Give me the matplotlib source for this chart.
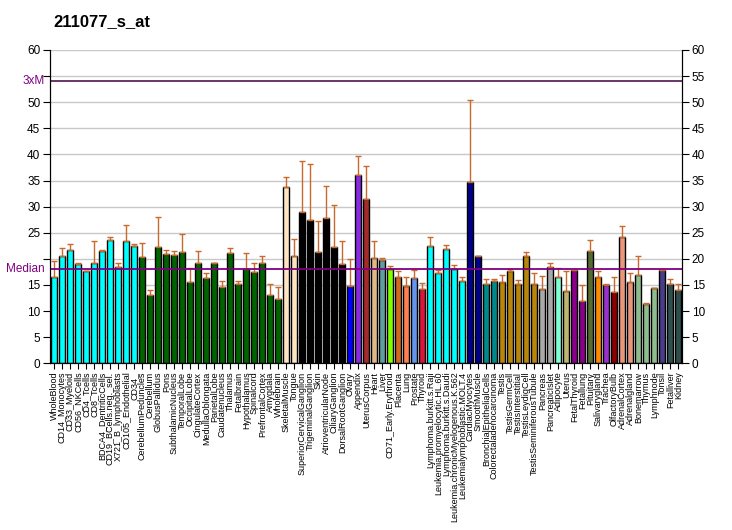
import numpy as np
import matplotlib
matplotlib.use("Agg")
import matplotlib.pyplot as plt

# Tissue labels, expression values and upper error bar ends
tissues = [
    "WholeBlood", "CD14_Monocytes", "CD33_Myeloid", "CD56_NKCells", "CD4_Tcells",
    "CD8_Tcells", "BDCA4_DentriticCells", "CD19_BCells.neg._sel.", "X721_B_lymphoblasts",
    "CD105_Endothelial", "CD34_", "CerebellumPeduncles", "Cerebellum", "GlobusPallidus",
    "Pons", "SubthalamicNucleus", "TemporalLobe", "OccipitalLobe", "CingulateCortex",
    "MedullaOblongata", "ParietalLobe", "Caudatenucleus", "Thalamus", "Fetalbrain",
    "Hypothalamus", "Spinalcord", "PrefrontalCortex", "Amygdala", "Wholebrain",
    "SkeletalMuscle", "Tongue", "SuperiorCervicalGanglion", "TrigeminalGanglion", "Skin",
    "AtrioventricularNode", "CiliaryGanglion", "DorsalRootGanglion", "Ovary", "Appendix",
    "UterusCorpus", "Heart", "Liver", "CD71_Early.Erythroid", "Placenta", "Lung",
    "Prostate", "Thyroid", "Lymphoma.burkitt.s.Raji", "Leukemia.promyelocytic.HL.60",
    "Lymphoma.burkitt.s.Daudi", "Leukemia.chronicMyelogenous.K.562",
    "Leukemialymphoblastic.MOLT.4", "CardiacMyocytes", "SmoothMuscle",
    "BronchialEpithelialCells", "Colorectaladenocarcinoma", "Testis", "TestisGermCell",
    "TestisInterstitial", "TestisLeydigCell", "TestisSeminiferousTubule", "Pancreas",
    "PancreaticIslet", "Adipocyte", "Uterus", "FetalThyroid", "Fetallung", "Pituitary",
    "Salivarygland", "Trachea", "OlfactoryBulb", "AdrenalCortex", "Adrenalgland",
    "Bonemarrow", "Thymus", "Lymphnode", "Tonsil", "Fetalliver", "Kidney",
]

values = [
    16.5, 20.5, 21.7, 19.0, 17.6, 19.3, 21.5, 23.6, 18.5, 23.4, 22.4,
    20.3, 13.1, 22.2, 20.9, 20.8, 21.3, 15.5, 19.3, 16.3, 19.2, 14.6, 21.1, 15.1,
    18.0, 17.4, 19.3, 13.0, 12.3,
    33.7, 20.5, 29.0, 27.5, 21.3, 27.8, 22.3, 19.0, 14.8, 36.1, 31.5, 20.1, 19.7,
    18.0, 16.5, 14.8, 16.3, 14.2, 22.4, 17.2, 21.8, 18.0, 15.7, 34.7, 20.5, 15.1,
    15.7, 15.5, 17.6, 15.1, 20.5, 15.1, 14.2, 18.4, 16.5, 13.8, 17.8, 11.9, 21.5,
    16.5, 14.9, 13.6, 24.1, 15.5, 16.9, 11.3, 14.4, 17.8, 15.1, 14.0,
]

err_top = [
    19.5, 22.0, 22.8, 19.3, 17.6, 23.4, 21.7, 24.1, 19.2, 26.4, 22.8,
    23.0, 14.0, 28.0, 21.7, 21.5, 24.7, 18.2, 21.6, 17.2, 19.3, 15.7, 22.0, 15.7,
    21.1, 19.3, 20.5, 15.1, 14.6,
    35.6, 23.9, 38.7, 38.1, 27.3, 34.0, 30.3, 23.4, 19.9, 39.7, 37.7, 23.4, 20.1,
    18.6, 17.6, 16.5, 17.8, 15.3, 24.1, 17.8, 22.6, 18.8, 16.5, 50.4, 20.5, 16.1,
    16.1, 17.0, 18.0, 15.9, 21.3, 17.2, 16.7, 19.2, 18.2, 17.6, 17.8, 14.9, 23.6,
    17.6, 15.1, 16.5, 26.2, 17.2, 20.5, 11.5, 14.4, 17.8, 16.1, 15.1,
]

# colour groups (colour, number of bars)
groups = [
    ("#00FFFF", 11), ("#006400", 18), ("#FFE4C4", 2), ("#000000", 6),
    ("#0000FF", 1), ("#8A2BE2", 1), ("#A52A2A", 1), ("#DEB887", 1), ("#5F9EA0", 1),
    ("#7FFF00", 1), ("#D2691E", 1), ("#FF7F50", 1), ("#6495ED", 1), ("#DC143C", 1),
    ("#00FFFF", 5), ("#00008B", 2), ("#008B8B", 2), ("#B8860B", 5), ("#A9A9A9", 2),
    ("#7FFFD4", 1), ("#BDB76B", 1), ("#8B008B", 2), ("#556B2F", 1), ("#FF8C00", 1),
    ("#9932CC", 1), ("#8B0000", 1), ("#E9967A", 2), ("#8FBC8F", 3), ("#483D8B", 1),
    ("#2F4F4F", 2),
]
colors = [c for c, n in groups for _ in range(n)]

median = 18.0
three_m = 54.0

yticks = np.arange(0, 61, 5)
# left side drops the labels that would sit on top of Median / 3xM
left_labels = ["" if t in (20, 55) else str(t) for t in yticks]
right_labels = [str(t) for t in yticks]

x = np.arange(len(tissues))
vals = np.array(values)
errs = np.array(err_top) - vals

fig = plt.figure(figsize=(7.32, 5.30), dpi=100)
ax = fig.add_axes([50 / 732, 1 - 363.3 / 530, 632 / 732, 313.3 / 530])

ax.set_yticks(yticks)
ax.set_yticklabels(left_labels, family="Liberation Sans")
ax.yaxis.grid(True, color="#C8C8C8", linewidth=1)
ax.set_axisbelow(True)

ax.bar(x, vals, width=0.72, color=colors, edgecolor="black", linewidth=1, zorder=2)
ax.errorbar(x, vals, yerr=[np.zeros_like(errs), errs], fmt="none",
            ecolor="#C8692D", elinewidth=1, capsize=2.5, capthick=1, zorder=3)

ax.axhline(median, color="#800080", linewidth=1.3, zorder=4)
ax.axhline(three_m, color="#400040", linewidth=1.1, zorder=4)

ax.set_xlim(-0.54, len(tissues) - 1 + 0.46)
ax.set_ylim(0, 60)

ax.spines["top"].set_visible(False)
ax.tick_params(axis="y", direction="out", length=5, labelsize=8.5, pad=2)
ax.set_xticks(x)
ax.set_xticklabels(tissues, rotation=90, fontsize=6.5, family="Liberation Sans")
ax.tick_params(axis="x", direction="out", length=4, pad=2)

ax2 = ax.twinx()
ax2.set_ylim(0, 60)
ax2.set_yticks(yticks)
ax2.set_yticklabels(right_labels, family="Liberation Sans")
ax2.tick_params(axis="y", direction="out", length=5, labelsize=8.5, pad=2)
ax2.spines["top"].set_visible(False)

ax.text(-0.008, median, "Median", transform=ax.get_yaxis_transform(), ha="right",
        va="center", color="#800080", fontsize=8.5, family="Liberation Sans")
ax.text(-0.008, three_m, "3xM", transform=ax.get_yaxis_transform(), ha="right",
        va="center", color="#800080", fontsize=8.5, family="Liberation Sans")

fig.text(53 / 732, 1 - 22 / 530, "211077_s_at", fontsize=12, fontweight="bold",
         family="Liberation Sans", ha="left", va="center")

fig.savefig("out.png", dpi=100, facecolor="white")
